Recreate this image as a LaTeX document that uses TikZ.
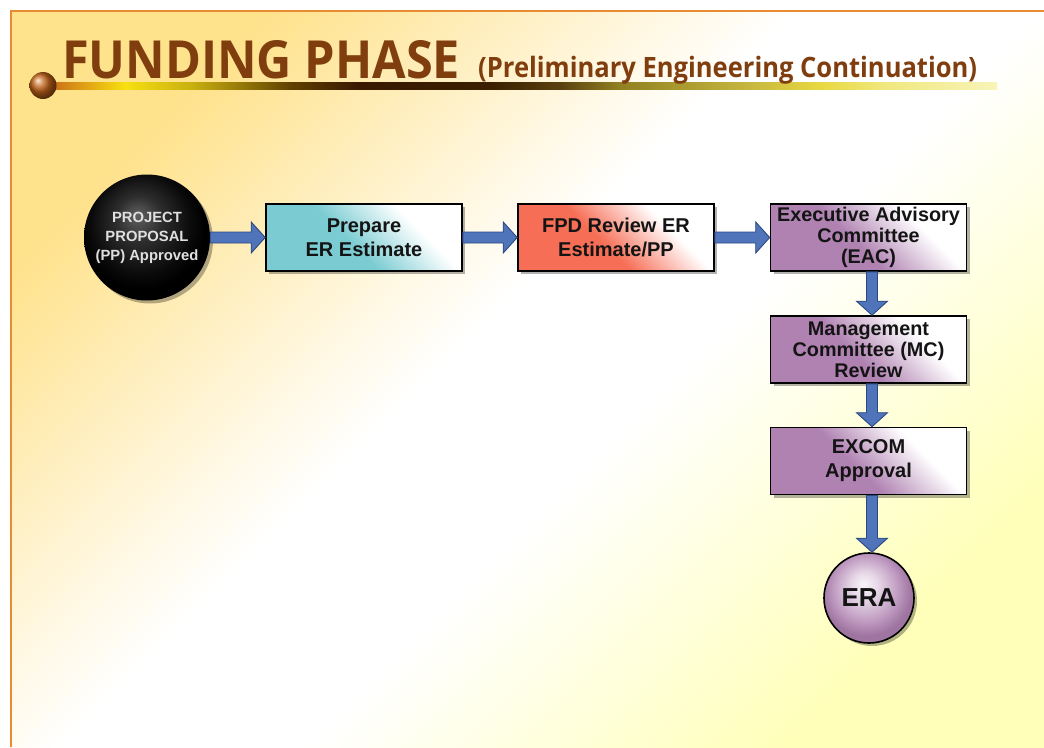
\documentclass[tikz,border=0pt]{standalone}
\usepackage{fontspec}
\setmainfont{Liberation Sans}
\newfontfamily\titlefont{Open Sans}
\usetikzlibrary{shadows,calc}

% palette
\definecolor{slideedge}{RGB}{232,140,50}
\definecolor{bgwarm}{RGB}{255,226,140}
\definecolor{bgpale}{RGB}{255,255,186}
\definecolor{titlebrown}{RGB}{128,62,14}
\definecolor{ballorange}{RGB}{196,100,24}
\definecolor{cyanfill}{RGB}{122,204,210}
\definecolor{salmonfill}{RGB}{246,110,86}
\definecolor{mauvefill}{RGB}{176,130,178}
\definecolor{flowblue}{RGB}{80,116,186}
\definecolor{flowedge}{RGB}{44,72,130}
\definecolor{textdark}{RGB}{20,20,20}
\colorlet{boxcol}{cyanfill}

% slide background: warm corner, white band, pale corner
\pgfdeclareverticalshading{slidebg}{100bp}{%
  color(0bp)=(bgpale); color(25bp)=(bgpale); color(44bp)=(white);
  color(54bp)=(white); color(75bp)=(bgwarm); color(100bp)=(bgwarm)}

% box fill: tint in the upper left, fading to white towards the lower right
\pgfdeclareverticalshading[boxcol]{boxshade}{100bp}{%
  color(0bp)=(white); color(25bp)=(white); color(33bp)=(white);
  color(55bp)=(boxcol); color(75bp)=(boxcol); color(100bp)=(boxcol)}

% dark orb for the start node
\pgfdeclareradialshading{darkorb}{\pgfpoint{-4bp}{9bp}}{%
  color(0bp)=(black!62); color(9bp)=(black!82); color(20bp)=(black!96);
  color(25bp)=(black); color(50bp)=(black)}

% mauve orb for the end node
\pgfdeclareradialshading{mauveorb}{\pgfpoint{-3bp}{8bp}}{%
  color(0bp)=(mauvefill!8!white); color(7bp)=(mauvefill!30!white);
  color(18bp)=(mauvefill!80!white); color(25bp)=(mauvefill!90!black);
  color(50bp)=(mauvefill!90!black)}

% title rule colours, left to right
\pgfdeclarehorizontalshading{titlerule}{100bp}{%
  color(0bp)=(ballorange); color(25bp)=(ballorange);
  color(25.8bp)=({rgb,255:red,208;green,120;blue,24});
  color(29.3bp)=({rgb,255:red,248;green,224;blue,16});
  color(32.8bp)=({rgb,255:red,200;green,176;blue,16});
  color(38bp)=({rgb,255:red,96;green,64;blue,0});
  color(41.5bp)=({rgb,255:red,58;green,24;blue,0});
  color(48.5bp)=({rgb,255:red,58;green,32;blue,0});
  color(52.1bp)=({rgb,255:red,90;green,64;blue,16});
  color(55.2bp)=({rgb,255:red,144;green,128;blue,32});
  color(62.2bp)=({rgb,255:red,200;green,184;blue,64});
  color(65.7bp)=({rgb,255:red,232;green,216;blue,64});
  color(69.2bp)=({rgb,255:red,240;green,232;blue,128});
  color(75bp)=({rgb,255:red,248;green,244;blue,184});
  color(100bp)=({rgb,255:red,248;green,244;blue,184})}

\tikzset{
  softshadow/.style={drop shadow={shadow xshift=3pt, shadow yshift=-3pt,
      fill=black, opacity=0.3}},
  stepbox/.style={/utils/exec={\colorlet{boxcol}{#1}},
    shade, shading=boxshade, shading angle=135,
    draw=black, line width=1.6pt, minimum width=196pt, minimum height=67pt,
    inner sep=0pt, align=center, text=textdark,
    font=\bfseries\fontsize{20}{24}\selectfont, softshadow},
  startorb/.style={circle, shade, shading=darkorb, minimum size=126pt,
    inner sep=0pt, align=center, text=black!12,
    font=\bfseries\fontsize{14.8}{19}\selectfont, softshadow},
  endorb/.style={circle, shade, shading=mauveorb, draw=black, line width=1.6pt,
    minimum size=90pt, inner sep=0pt, text=textdark,
    font=\bfseries\fontsize{26}{30}\selectfont, softshadow},
  flow/.style={fill=flowblue, draw=flowedge, line width=0.9pt, line join=miter},
}

% block arrow from the right side of #1 to the left side of #2
\newcommand\flowH[2]{%
  \path (#1.east |- #2.west) coordinate (#1-#2-s);
  \draw[flow] ($(#1-#2-s)+(0,-5.5)$) -- ($(#2.west)+(-14,-5.5)$)
    -- ($(#2.west)+(-14,-15.5)$) -- (#2.west) -- ($(#2.west)+(-14,15.5)$)
    -- ($(#2.west)+(-14,5.5)$) -- ($(#1-#2-s)+(0,5.5)$) -- cycle;}
% block arrow from the bottom of #1 to the top of #2
\newcommand\flowV[2]{%
  \path ($(#1.south)+(3.5,0)$) coordinate (#1-#2-s);
  \path (#1-#2-s |- #2.north) coordinate (#1-#2-t);
  \draw[flow] ($(#1-#2-s)+(-5.5,0)$) -- ($(#1-#2-t)+(-5.5,-14)$)
    -- ($(#1-#2-t)+(-15.5,-14)$) -- (#1-#2-t) -- ($(#1-#2-t)+(15.5,-14)$)
    -- ($(#1-#2-t)+(5.5,-14)$) -- ($(#1-#2-s)+(5.5,0)$) -- cycle;}

\begin{document}
\begin{tikzpicture}[x=1pt,y=-1pt]
\useasboundingbox (0,0) rectangle (1044,747);
\fill[white] (0,0) rectangle (1044,747);

% slide background and its edge
\shade[shading=slidebg, shading angle=45] (10,10) rectangle (1044,747);
\draw[slideedge, line width=2pt] (10.5,747) -- (10.5,10.5) -- (1044,10.5);

% heading
\shade[shading=titlerule] (43,82) rectangle (997,89);
\shade[ball color=ballorange] (43,85.5) circle (13.5pt);
\node[anchor=base west, inner sep=0pt, text=titlebrown, font=\titlefont\bfseries]
  (title) at (62,78) {\resizebox{398pt}{38pt}{FUNDING PHASE}};
\node[anchor=base west, inner sep=0pt, text=titlebrown, font=\titlefont\bfseries]
  (subtitle) at (478,77)
  {\resizebox{499pt}{21.3pt}{(Preliminary Engineering Continuation)}};

% process steps
\node[startorb] (pp) at (147,237.5) {PROJECT\\PROPOSAL\\(PP) Approved};
\node[stepbox=cyanfill] (est) at (364,237.5) {Prepare\\ER Estimate};
\node[stepbox=salmonfill] (fpd) at (616,237.5) {FPD Review ER\\Estimate/PP};
\node[stepbox=mauvefill, font=\bfseries\fontsize{19.8}{21}\selectfont]
  (eac) at (868.5,237.5) {Executive Advisory\\Committee\\(EAC)};
\node[stepbox=mauvefill, font=\bfseries\fontsize{19.8}{21}\selectfont]
  (mc) at (868.5,349.5) {Management\\Committee (MC)\\Review};
\node[stepbox=mauvefill] (excom) at (868.5,461) {EXCOM\\Approval};
\node[endorb] (era) at (869,598) {ERA};

% connectors
\flowH{pp}{est}
\flowH{est}{fpd}
\flowH{fpd}{eac}
\flowV{eac}{mc}
\flowV{mc}{excom}
\flowV{excom}{era}
\end{tikzpicture}
\end{document}
